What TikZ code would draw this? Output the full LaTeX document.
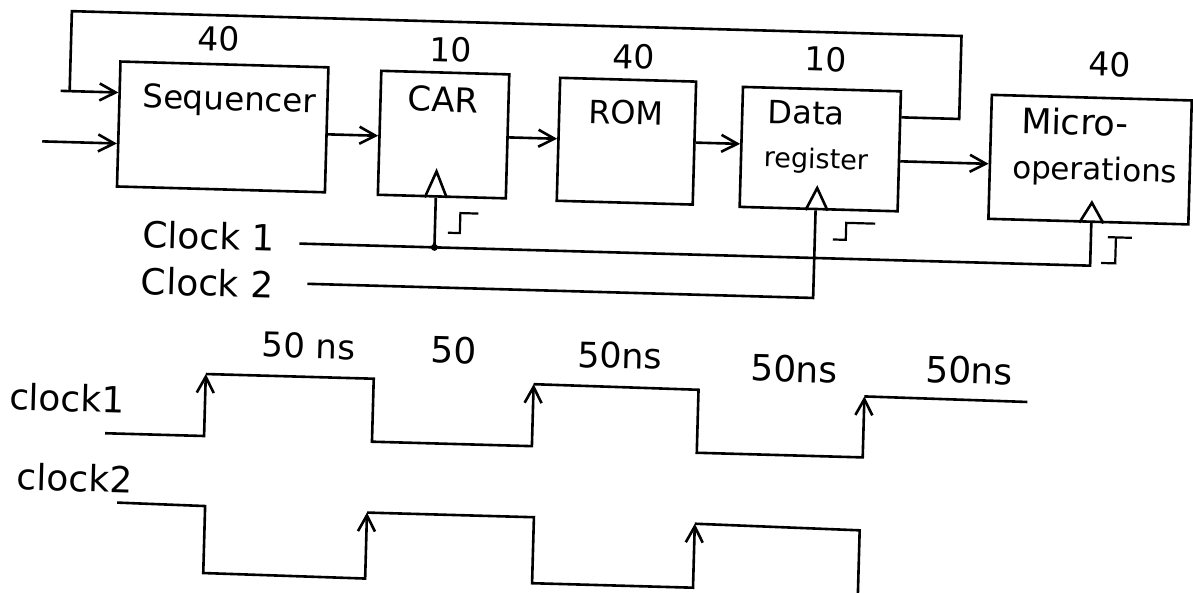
\documentclass[tikz,border=0pt]{standalone}
\usepackage{fontspec}
\setmainfont{DejaVu Sans}
\usetikzlibrary{arrows.meta}
\begin{document}
\begin{tikzpicture}[x=1pt,y=-1pt,
  wire/.style={line width=2.6pt, line join=miter},
  blk/.style={draw, line width=2.6pt, inner sep=0pt},
  arr/.style={-{Straight Barb[length=16pt,width=17pt]}},
  glyph/.style={line width=2.2pt},
  txt/.style={inner sep=0pt, font=\fontsize{#1}{#1}\selectfont},
  txt/.default=32]
\useasboundingbox (0,0) rectangle (1193,592);
\fill[white] (0,0) rectangle (1193,592);
\begin{scope}[rotate around={-1.6:(600,300)}, transform shape]
% blocks
\node[blk, minimum width=208pt, minimum height=125pt] (seq) at (218,137.5) {};
\node[blk, minimum width=128pt, minimum height=124pt] (car) at (439,139) {};
\node[blk, minimum width=136pt, minimum height=123pt] (rom) at (622,140.5) {};
\node[blk, minimum width=158pt, minimum height=120pt] (dr) at (816,143) {};
\node[blk, minimum width=200pt, minimum height=124pt] (mic) at (1086,146) {};
% numbers
\node[txt=33] (nseq) at (212,49.5) {40};
\node[txt=33] (ncar) at (444,54) {10};
\node[txt=33] (nrom) at (627,56) {40};
\node[txt=33] (ndr) at (819,53) {10};
\node[txt=33] (nmic) at (1103.5,50) {40};
% block labels
\node[txt=32.5] (lseq) at (224,112) {Sequencer};
\node[txt=34] (lcar) at (438,104) {CAR};
\node[txt=32] (lrom) at (621,112) {ROM};
\node[txt=32] (ldata) at (801,107) {Data};
\node[txt=27] (lreg) at (812,155) {register};
\node[txt=35] (lmic) at (1070,108.5) {Micro-};
\node[txt=31] (lops) at (1091,158) {operations};
% clock labels
\node[txt=36] (lc1) at (207,247) {Clock 1};
\node[txt=36] (lc2) at (207,293.5) {Clock 2};
% feedback and inputs
\coordinate (fbin) at (55,106);
\draw[wire,arr] (fbin) -- (seq.west |- 0,106);
\draw[wire] (dr.east |- 0,109) -- (954,109) -- (954,26) -- (64,26) -- (64,106);
\coordinate (in2) at (38,157);
\draw[wire,arr] (in2) -- (seq.west |- 0,157);
% data path
\draw[wire,arr] (seq.east |- 0,142) -- (car.west |- 0,142);
\draw[wire,arr] (car.east |- 0,140) -- (rom.west |- 0,140);
\draw[wire,arr] (rom.east |- 0,140) -- (dr.west |- 0,140);
\draw[wire,arr] (dr.east |- 0,153) -- (mic.west |- 0,153);
% clock triangles
\draw[wire] (car.south -| 422,0) -- (433,176) -- (car.south -| 444,0);
\draw[wire] (dr.south -| 803,0) -- (814,182) -- (dr.south -| 825,0);
\draw[wire] (mic.south -| 1077,0) -- (1089,189) -- (mic.south -| 1101,0);
% clock lines
\coordinate (c1) at (298,252);
\coordinate (c2) at (307,292);
\draw[wire] (c1) -- (1089,252) -- (mic.south -| 1089,0);
\draw[wire] (433,252) -- (car.south -| 433,0);
\fill (433,252) circle (3.5pt);
\draw[wire] (c2) -- (813,292) -- (dr.south -| 813,0);
% rising edge marks
\draw[glyph] (446,237) -- (458,237) -- (458,217) -- (476,217);
\draw[glyph] (831,233) -- (844,233) -- (844,216) -- (873,216);
\draw[glyph] (1100,249) -- (1114,249) -- (1114,223);
\draw[glyph] (1106,223) -- (1130,223);
% timing diagram labels
\node[txt=36] (wc1) at (70,413) {clock1};
\node[txt=36] (wc2) at (80,492.5) {clock2};
\node[txt=34] (t1) at (310,354) {50 ns};
\node[txt=36] (t2) at (455,354) {50};
\node[txt=35] (t3) at (621.5,355) {50ns};
\node[txt=36] (t4) at (796,363.5) {50ns};
\node[txt=36] (t5) at (971,360) {50ns};
% clock 1 waveform
\draw[wire,arr] (109,447) -- (208,447) -- (208,385);
\draw[wire,arr] (208,385) -- (376,385) -- (376,448) -- (536,448) -- (536,386);
\draw[wire,arr] (536,386) -- (701,387) -- (701,450) -- (867,450) -- (867,389);
\draw[wire] (867,389) -- (1030,390);
% clock 2 waveform
\draw[wire,arr] (123,516) -- (211,517) -- (211,584) -- (373,585) -- (373,519);
\draw[wire,arr] (373,519) -- (540,519) -- (540,585) -- (701,585) -- (701,521);
\draw[wire] (701,521) -- (866,523) -- (866,605);
\end{scope}
\end{tikzpicture}
\end{document}
